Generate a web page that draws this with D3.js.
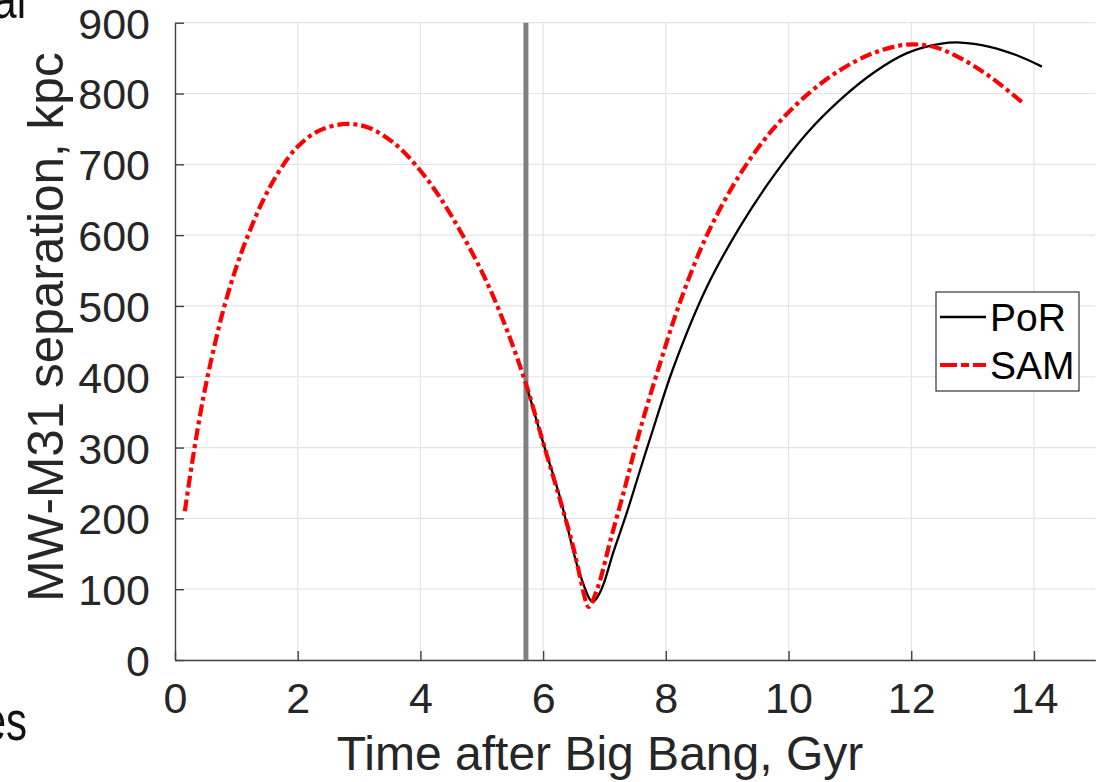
<!DOCTYPE html>
<html>
<head>
<meta charset="utf-8">
<script src="https://cdn.jsdelivr.net/npm/d3@7"></script>
<style>
  html, body { margin: 0; padding: 0; background: #fff; }
  svg { display: block; font-family: "Liberation Sans", Arial, Helvetica, sans-serif; }
</style>
</head>
<body>
<svg id="chart" width="1098" height="782"></svg>
<script>
// ---- data ----
const samTime = [0.16, 0.30, 0.46, 0.62, 0.79, 1.00, 1.20, 1.44, 1.71, 2.01, 2.36, 2.80, 3.18, 3.61, 3.99, 4.32, 4.70, 5.08, 5.41, 5.72, 6.00, 6.28, 6.49, 6.62, 6.70, 6.74, 6.79, 6.86, 6.93, 7.10, 7.31, 7.58, 7.91, 8.23, 8.67, 9.21, 9.75, 10.30, 10.84, 11.38, 11.93, 12.36, 12.80, 13.28, 13.83];
const samSep  = [210, 290, 370, 435, 495, 555, 602, 650, 692, 726, 748, 757, 751, 727, 692, 653, 598, 534, 466, 390, 307, 225, 160, 110, 82, 75, 80, 95, 113, 170, 236, 325, 420, 505, 600, 686, 750, 798, 833, 857, 869, 866, 850, 824, 786];
const porTime = [5.72, 6.00, 6.28, 6.55, 6.71, 6.76, 6.81, 6.88, 6.98, 7.14, 7.36, 7.58, 7.80, 8.12, 8.67, 9.21, 9.75, 10.30, 10.84, 11.38, 11.93, 12.47, 12.80, 13.28, 13.72, 14.13];
const porSep  = [390, 307, 228, 135, 95, 86, 82, 88, 106, 151, 207, 268, 328, 412, 527, 612, 683, 744, 791, 829, 857, 870, 872, 866, 854, 838];
const xTicks = [0, 2, 4, 6, 8, 10, 12, 14];
const yTicks = [0, 100, 200, 300, 400, 500, 600, 700, 800, 900];
const xDomain = [0, 15];
const yDomain = [0, 900];
const presentTime = 5.72;
const seriesNames = ["PoR", "SAM"];
const xLabel = "Time after Big Bang, Gyr";
const yLabel = "MW-M31 separation, kpc";

// ---- layout ----
const svg = d3.select("#chart");
const pLeft = 175, pRight = 1095.3, pTop = 22.7, pBottom = 660;
const x = d3.scaleLinear().domain(xDomain).range([pLeft, pRight]);
const y = d3.scaleLinear().domain(yDomain).range([pBottom, pTop]);
const textColor = "#262626";

// fragments of surrounding page text
svg.append("text").attr("transform", "translate(26,18) scale(0.75,1)").attr("text-anchor", "end")
  .attr("font-size", 56).attr("fill", "#111").text("al");
svg.append("text").attr("transform", "translate(27,740) scale(0.75,1)").attr("text-anchor", "end")
  .attr("font-size", 56).attr("fill", "#111").text("es");

// grid
const grid = svg.append("g");
grid.selectAll("line.gx").data(xTicks.filter(d => d > 0)).join("line")
  .attr("x1", d => x(d)).attr("x2", d => x(d)).attr("y1", pTop).attr("y2", pBottom)
  .attr("stroke", "#e3e3e3").attr("stroke-width", 1.2);
grid.selectAll("line.gy").data(yTicks.filter(d => d > 0)).join("line")
  .attr("x1", pLeft).attr("x2", pRight).attr("y1", d => y(d)).attr("y2", d => y(d))
  .attr("stroke", "#e3e3e3").attr("stroke-width", 1.2);

// axes
const xAxis = d3.axisBottom(x).tickValues(xTicks).tickSizeInner(-9).tickSizeOuter(0).tickPadding(22);
const yAxis = d3.axisLeft(y).tickValues(yTicks).tickSizeInner(-9).tickSizeOuter(0).tickPadding(25);
const gx = svg.append("g").attr("transform", `translate(0,${pBottom})`).call(xAxis);
const gy = svg.append("g").attr("transform", `translate(${pLeft},0)`).call(yAxis);
[gx, gy].forEach(g => {
  g.select(".domain").attr("stroke", "#404040").attr("stroke-width", 1.4);
  g.selectAll(".tick line").attr("stroke", "#404040").attr("stroke-width", 1.4);
  g.selectAll(".tick text").attr("fill", textColor).attr("font-size", 43)
    .attr("font-family", "Liberation Sans, Arial, sans-serif");
});
gx.selectAll(".tick text").attr("dy", "0.71em");
gy.selectAll(".tick text").attr("dy", "0.36em");

// present-day line
svg.append("line").attr("x1", x(presentTime)).attr("x2", x(presentTime))
  .attr("y1", pTop).attr("y2", pBottom).attr("stroke", "#808080").attr("stroke-width", 5);

// curves
const line = d3.line().x(d => x(d[0])).y(d => y(d[1])).curve(d3.curveCatmullRom.alpha(0.5));
const porData = porTime.map((t, i) => [t, porSep[i]]);
const samData = samTime.map((t, i) => [t, samSep[i]]);
svg.append("path").datum(porData).attr("d", line).attr("fill", "none")
  .attr("stroke", "#000").attr("stroke-width", 2.3);
svg.append("path").datum(samData).attr("d", line).attr("fill", "none")
  .attr("stroke", "#ff0000").attr("stroke-width", 4.2).attr("stroke-dasharray", "12,4,4,4");

// labels
svg.append("text").attr("x", 600).attr("y", 770).attr("text-anchor", "middle")
  .attr("font-size", 48).attr("fill", textColor).text(xLabel);
svg.append("text").attr("transform", "translate(63,327) rotate(-90)").attr("text-anchor", "middle")
  .attr("font-size", 49.5).attr("fill", textColor).text(yLabel);

// legend
const lg = svg.append("g");
lg.append("rect").attr("x", 936).attr("y", 292).attr("width", 143).attr("height", 99)
  .attr("fill", "#fff").attr("stroke", "#333").attr("stroke-width", 1.2);
const legendRows = [
  { name: seriesNames[0], color: "#000", w: 2.5, dash: null, cy: 317 },
  { name: seriesNames[1], color: "#ff0000", w: 4.2, dash: "17,4,8,4", cy: 365 }
];
legendRows.forEach(r => {
  const l = lg.append("line").attr("x1", 940).attr("x2", 986).attr("y1", r.cy).attr("y2", r.cy)
    .attr("stroke", r.color).attr("stroke-width", r.w);
  if (r.dash) l.attr("stroke-dasharray", r.dash);
  lg.append("text").attr("x", 990).attr("y", r.cy + 14).attr("font-size", 39)
    .attr("fill", "#000").text(r.name);
});
</script>
</body>
</html>
